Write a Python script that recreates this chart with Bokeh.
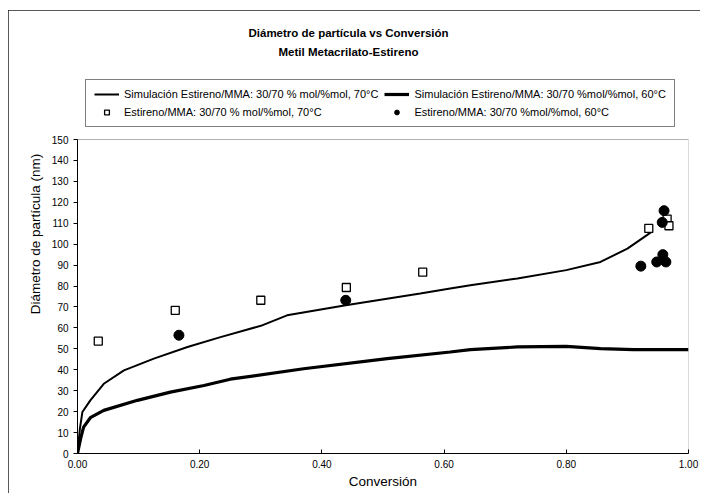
from bokeh.plotting import figure
from bokeh.models import (Range1d, FixedTicker, NumeralTickFormatter, Legend, LegendItem,
                          Label, BoxAnnotation)
from bokeh.embed import file_html
from bokeh.resources import INLINE

# ---- data ----
sim70_x = [0.0, 0.004, 0.008, 0.021, 0.043, 0.076, 0.125, 0.18, 0.234, 0.30, 0.343, 0.439,
           0.561, 0.61, 0.643, 0.72, 0.80, 0.856, 0.90, 0.932, 0.94]
sim70_y = [0.0, 12.0, 19.8, 25.4, 33.3, 39.7, 45.3, 50.9, 55.6, 61.0, 66.0, 70.8,
           76.4, 78.8, 80.4, 83.6, 87.6, 91.5, 97.9, 104.3, 106.0]

sim60_x = [0.0, 0.005, 0.01, 0.021, 0.043, 0.098, 0.152, 0.207, 0.25, 0.37, 0.507,
           0.61, 0.643, 0.72, 0.80, 0.856, 0.91, 1.0]
sim60_y = [0.0, 7.0, 12.6, 17.1, 20.6, 25.4, 29.3, 32.5, 35.5, 40.5, 45.3,
           48.5, 49.6, 50.9, 51.2, 50.1, 49.6, 49.6]

exp70_x = [0.034, 0.16, 0.30, 0.44, 0.565, 0.935, 0.965, 0.968]
exp70_y = [53.7, 68.4, 73.2, 79.3, 86.6, 107.5, 112.0, 108.8]

exp60_x = [0.166, 0.439, 0.922, 0.948, 0.958, 0.963, 0.957, 0.96]
exp60_y = [56.5, 73.2, 89.5, 91.5, 95.0, 91.5, 110.4, 116.0]

x_ticks = [0.0, 0.2, 0.4, 0.6, 0.8, 1.0]
y_ticks = list(range(0, 151, 10))
x_min, x_max = 0.0, 1.0
y_min, y_max = 0, 150

title_1 = "Diámetro de partícula vs Conversión"
title_2 = "Metil Metacrilato-Estireno"
labels = ["Simulación Estireno/MMA: 30/70 % mol/%mol, 70°C",
          "Simulación Estireno/MMA: 30/70 %mol/%mol, 60°C",
          "Estireno/MMA: 30/70 % mol/%mol, 70°C",
          "Estireno/MMA: 30/70 %mol/%mol, 60°C"]

FONT = "Liberation Sans"

# layout in pixels: the frame reaches up to the title area; the data area (0..150) is 314 px tall
FRAME_H = 439
DATA_H = 314
top_value = y_max * FRAME_H / DATA_H

p = figure(width=692, height=483, output_backend="svg", toolbar_location=None,
           x_range=Range1d(x_min, x_max), y_range=Range1d(y_min, top_value),
           min_border_left=69, min_border_top=4, min_border_right=12, min_border_bottom=40)
p.styles = {"margin-left": "8px", "margin-top": "10px",
            "outline": "1px solid #222", "outline-offset": "-1px"}

p.xgrid.visible = False
p.ygrid.visible = False
p.outline_line_color = None
p.background_fill_color = "white"
p.border_fill_color = "white"

# plot-area border
p.add_layout(BoxAnnotation(left=x_min, right=x_max, bottom=y_min, top=y_max,
                           fill_alpha=0, line_color="black", line_width=1))

r1 = p.line(sim70_x, sim70_y, line_color="black", line_width=2)
r2 = p.line(sim60_x, sim60_y, line_color="black", line_width=3.2)
r3 = p.scatter(exp70_x, exp70_y, marker="square", size=8, fill_color="white",
               line_color="black", line_width=1.3)
r4 = p.scatter(exp60_x, exp60_y, marker="circle", size=10, fill_color="black",
               line_color="black")

# axes
p.xaxis.ticker = FixedTicker(ticks=x_ticks)
p.xaxis.formatter = NumeralTickFormatter(format="0.00")
p.yaxis.ticker = FixedTicker(ticks=y_ticks)
p.yaxis.bounds = (y_min, y_max)
p.xaxis.axis_label = "Conversión"
p.yaxis.axis_label = "Diámetro de partícula (nm)"
for ax in (p.xaxis, p.yaxis):
    ax.axis_line_color = "black"
    ax.major_tick_line_color = "black"
    ax.minor_tick_line_color = None
    ax.major_label_text_font = FONT
    ax.major_label_text_font_size = "10px"
    ax.major_label_text_color = "black"
    ax.axis_label_text_font = FONT
    ax.axis_label_text_font_style = "normal"
    ax.axis_label_text_color = "black"
    ax.axis_label_text_font_size = "13.5px"
p.xaxis.major_tick_in = 4
p.xaxis.major_tick_out = 0
p.yaxis.major_tick_in = 0
p.yaxis.major_tick_out = 4
p.xaxis.major_label_standoff = 6
p.xaxis.axis_label_standoff = 3
p.yaxis.major_label_standoff = 5
p.yaxis.axis_label_standoff = 6

# two-line title (screen units from the frame's bottom-left)
for txt, ty in ((title_1, 421), (title_2, 402)):
    p.add_layout(Label(x=271, y=ty, x_units="screen", y_units="screen", text=txt,
                       text_align="center", text_baseline="middle", text_font=FONT,
                       text_font_style="bold", text_font_size="11.5px", text_color="black"))

legend = Legend(items=[LegendItem(label=labels[0], renderers=[r1]),
                       LegendItem(label=labels[1], renderers=[r2]),
                       LegendItem(label=labels[2], renderers=[r3]),
                       LegendItem(label=labels[3], renderers=[r4])],
                orientation="horizontal", ncols=2, location=(8, 326))
legend.label_text_font = FONT
legend.label_text_font_size = "11px"
legend.label_text_color = "black"
legend.glyph_width = 25
legend.glyph_height = 12
legend.label_height = 12
legend.label_standoff = 5
legend.spacing = 6
legend.padding = 8
legend.margin = 0
legend.border_line_color = "black"
legend.border_line_width = 1
legend.background_fill_color = "white"
legend.background_fill_alpha = 1
p.add_layout(legend)

open("out.html", "w").write(file_html(p, INLINE))
